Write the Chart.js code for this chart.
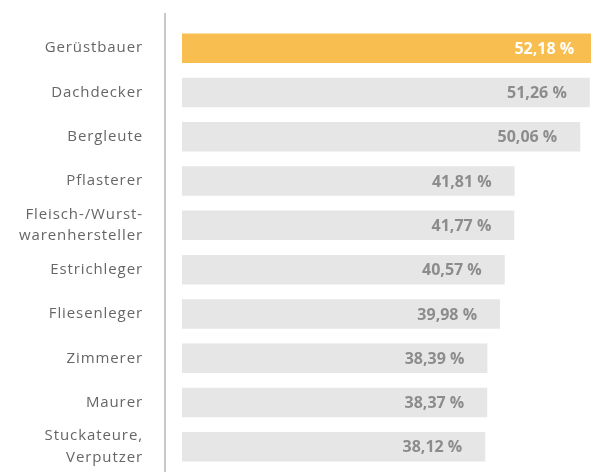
<!DOCTYPE html>
<html>
<head>
<meta charset="utf-8">
<script src="https://cdn.jsdelivr.net/npm/chart.js@4"></script>
<style>
  html, body { margin: 0; padding: 0; background: #fff; overflow: hidden; }
  #wrap { position: absolute; left: 0; top: 0; width: 610px; height: 472px; }
</style>
</head>
<body>
<div id="wrap"><canvas id="chart"></canvas></div>
<script>
const categories = [
  'Gerüstbauer',
  'Dachdecker',
  'Bergleute',
  'Pflasterer',
  ['Fleisch-/Wurst-', 'warenhersteller'],
  'Estrichleger',
  'Fliesenleger',
  'Zimmerer',
  'Maurer',
  ['Stuckateure,', 'Verputzer']
]
const shares = [52.18, 51.26, 50.06, 41.81, 41.77, 40.57, 39.98, 38.39, 38.37, 38.12]
const barColors = ['#f9be50', '#e6e6e6', '#e6e6e6', '#e6e6e6', '#e6e6e6', '#e6e6e6', '#e6e6e6', '#e6e6e6', '#e6e6e6', '#e6e6e6']
const labelColors = ['#ffffff', '#8c8c8c', '#8c8c8c', '#8c8c8c', '#8c8c8c', '#8c8c8c', '#8c8c8c', '#8c8c8c', '#8c8c8c', '#8c8c8c']

const fmt = v => v.toFixed(2).replace('.', ',') + ' %'

// slightly spaced category labels, vertical separator line
const separator = {
  id: 'separator',
  beforeDraw(chart) {
    chart.ctx.letterSpacing = '0.9px'
  },
  beforeDatasetsDraw(chart) {
    const { ctx, chartArea } = chart
    ctx.letterSpacing = '0px'
    const x = chartArea.left - 17
    ctx.save()
    ctx.strokeStyle = '#c8c8c8'
    ctx.lineWidth = 2
    ctx.beginPath()
    ctx.moveTo(x, 13)
    ctx.lineTo(x, chart.height)
    ctx.stroke()
    ctx.restore()
  }
}

// value labels inside bar ends
const valueLabels = {
  id: 'valueLabels',
  afterDatasetsDraw(chart) {
    const { ctx } = chart
    const meta = chart.getDatasetMeta(0)
    ctx.save()
    ctx.font = 'bold 16px "Open Sans"'
    ctx.textAlign = 'right'
    ctx.textBaseline = 'middle'
    meta.data.forEach((bar, i) => {
      ctx.fillStyle = labelColors[i]
      ctx.fillText(fmt(shares[i]), bar.x - 23, bar.y + 1)
    })
    ctx.restore()
  }
}

new Chart(document.getElementById('chart'), {
  type: 'bar',
  data: {
    labels: categories,
    datasets: [{
      data: shares,
      backgroundColor: barColors,
      borderWidth: 0,
      barPercentage: 0.667,
      categoryPercentage: 1
    }]
  },
  options: {
    indexAxis: 'y',
    responsive: true,
    maintainAspectRatio: false,
    animation: false,
    layout: { padding: { top: 26, bottom: 3, left: 0, right: 0 } },
    plugins: {
      legend: { display: false },
      tooltip: { enabled: false }
    },
    scales: {
      x: {
        display: false,
        min: 0,
        max: 53.8
      },
      y: {
        grid: { display: false, drawTicks: false },
        border: { display: false },
        ticks: {
          autoSkip: false,
          color: '#666666',
          font: { family: 'Open Sans', size: 15, lineHeight: 1.45 },
          padding: 39
        },
        afterFit(scale) {
          scale.width = 182
          scale.paddingTop = 0
          scale.paddingBottom = 0
        }
      }
    }
  },
  plugins: [separator, valueLabels]
})
</script>
</body>
</html>
